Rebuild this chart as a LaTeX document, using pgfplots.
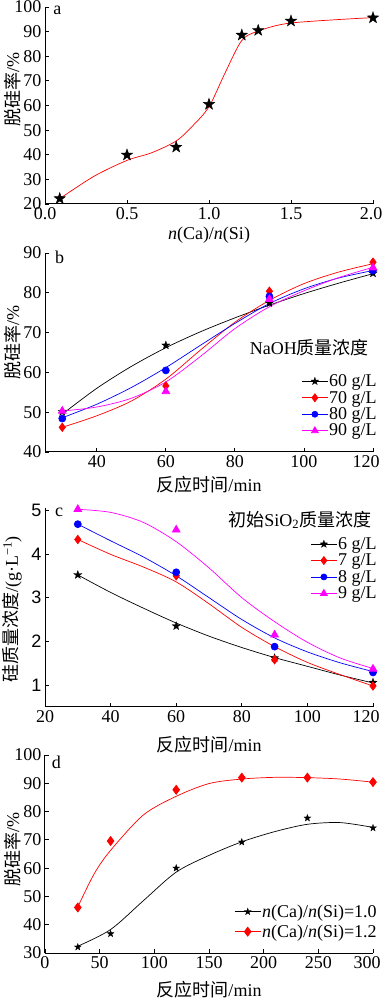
\documentclass[border=0pt]{standalone}
\usepackage{fontspec}
\setmainfont{Liberation Serif}
\setsansfont{Liberation Sans}
\newfontfamily\cjk{Noto Sans CJK SC}
\usepackage{pgfplots}
\pgfplotsset{compat=1.18}
\definecolor{mag}{RGB}{255,0,255}
\pgfdeclareplotmark{fstar}{%
  \pgfpathmoveto{\pgfpointpolar{90}{\pgfplotmarksize}}%
  \pgfpathlineto{\pgfpointpolar{126}{0.4\pgfplotmarksize}}%
  \pgfpathlineto{\pgfpointpolar{162}{\pgfplotmarksize}}%
  \pgfpathlineto{\pgfpointpolar{198}{0.4\pgfplotmarksize}}%
  \pgfpathlineto{\pgfpointpolar{234}{\pgfplotmarksize}}%
  \pgfpathlineto{\pgfpointpolar{270}{0.4\pgfplotmarksize}}%
  \pgfpathlineto{\pgfpointpolar{306}{\pgfplotmarksize}}%
  \pgfpathlineto{\pgfpointpolar{342}{0.4\pgfplotmarksize}}%
  \pgfpathlineto{\pgfpointpolar{18}{\pgfplotmarksize}}%
  \pgfpathlineto{\pgfpointpolar{54}{0.4\pgfplotmarksize}}%
  \pgfpathclose
  \pgfusepathqfillstroke
}
\pgfplotsset{
  myaxis/.style={
    scale only axis, width=328pt,
    axis lines=left, axis line style={-, line width=1pt},
    tick align=inside, major tick length=4pt, tick style={line width=0.8pt, black},
    /pgf/number format/assume math mode=true,
    xlabel style={anchor=center},
    ylabel style={anchor=center},
    every axis plot/.append style={line width=0.7pt},
    legend style={draw=none, fill=none, inner sep=0pt, row sep=1pt,
      nodes={inner sep=1pt}, cells={anchor=west}, anchor=north east},
    legend image code/.code={\draw[mark repeat=2,mark phase=2,#1] plot coordinates {(0pt,0pt) (13pt,0pt) (26pt,0pt)};},
    clip=false,
  },
}
\begin{document}
\begin{tikzpicture}[font=\fontsize{18pt}{21pt}\selectfont]
\path[use as bounding box] (0pt,0pt) rectangle (382pt,1000pt);
% ---------------- a
\begin{axis}[myaxis, at={(45pt,796pt)}, anchor=south west, height=197pt,
  xmin=0, xmax=2, ymin=20, ymax=100,
  xtick={0,0.5,1,1.5}, ytick={20,30,...,100},
  extra x ticks={2}, extra x tick style={xticklabel style={xshift=-2pt}},
  xticklabel style={/pgf/number format/fixed,/pgf/number format/fixed zerofill,/pgf/number format/precision=1},
  xlabel={\textit{n}(Ca)/\textit{n}(Si)},
  xlabel style={at={(axis description cs:0.5,-0.157)}},
  ylabel={{\cjk 脱硅率}/\%},
  ylabel style={at={(axis description cs:-0.1,0.58)}},
]
\addplot[red, smooth, tension=0.5] coordinates {(0.09,22.2) (0.3,31.3) (0.5,37.7) (0.65,40.8) (0.8,45.6) (0.9,51.7) (1.0,59.5) (1.1,73.5) (1.2,86.4) (1.3,90.2) (1.5,93.5) (2.0,95.7)};
\addplot[only marks, mark=fstar, mark size=6pt, mark options={fill=black, line width=0.4pt}, black] coordinates {(0.09,22.2) (0.5,39.9) (0.8,43.1) (1.0,60.5) (1.2,88.6) (1.3,90.5) (1.5,94.3) (2.0,95.6)};
\node[anchor=base west, inner sep=0] at (axis description cs:0.025,0.962) {a};
\end{axis}
% ---------------- b
\begin{axis}[myaxis, at={(45pt,548pt)}, anchor=south west, height=199pt,
  xmin=25, xmax=120, ymin=40, ymax=90,
  xtick={40,60,...,100}, ytick={40,50,...,90},
  extra x ticks={120}, extra x tick style={xticklabel style={xshift=-7pt}},
  xlabel={{\cjk 反应时间}/min},
  xlabel style={at={(axis description cs:0.5,-0.166)}},
  ylabel={{\cjk 脱硅率}/\%},
  ylabel style={at={(axis description cs:-0.1,0.55)}},
  legend style={at={(axis description cs:1.015,0.395)}, row sep=1pt},
]
\addplot[black, smooth, forget plot] coordinates {(30,49.5) (40,56) (50,61.5) (60,66.2) (70,70.2) (80,73.7) (90,76.9) (100,79.8) (110,82.4) (120,84.8)};
\addplot[red, smooth, forget plot] coordinates {(30,46.2) (40,49.1) (50,52.8) (60,58.3) (70,65.6) (80,72.6) (90,78.1) (100,82.3) (110,85.2) (120,87.3)};
\addplot[blue, smooth, forget plot] coordinates {(30,48.6) (40,52) (50,56.2) (60,61.2) (70,66.8) (80,72.3) (90,77.3) (100,81) (110,83.7) (120,85.6)};
\addplot[mag, smooth, forget plot] coordinates {(30,50.3) (40,51.3) (50,53.5) (60,57.6) (70,64) (80,71) (90,76.5) (100,80.5) (110,83.8) (120,86.4)};
\addplot[black, only marks, mark=fstar, mark size=4.3pt, mark options={fill=black, line width=0.3pt}, forget plot] coordinates {(30,50.1) (60,66.8) (90,77.4) (120,84.9)};
\addplot[red, only marks, mark=diamond*, mark size=4.2pt, forget plot] coordinates {(30,46.2) (60,56.6) (90,80.4) (120,87.7)};
\addplot[blue, only marks, mark=*, mark size=3.5pt, forget plot] coordinates {(30,48.4) (60,60.5) (90,79.1) (120,85.6)};
\addplot[mag, only marks, mark=triangle*, mark size=4.5pt, forget plot] coordinates {(30,50.3) (60,55.2) (90,78.4) (120,86.3)};
\addlegendimage{black, line width=0.7pt, mark=fstar, mark size=4pt, mark options={fill=black, line width=0.3pt}}
\addlegendentry{60 g/L}
\addlegendimage{red, line width=0.7pt, mark=diamond*, mark size=4pt}
\addlegendentry{70 g/L}
\addlegendimage{blue, line width=0.7pt, mark=*, mark size=3pt}
\addlegendentry{80 g/L}
\addlegendimage{mag, line width=0.7pt, mark=triangle*, mark size=4pt}
\addlegendentry{90 g/L}
\node[anchor=center, inner sep=0] at (axis description cs:0.806,0.523) {NaOH{\cjk 质量浓度}};
\node[anchor=base west, inner sep=0] at (axis description cs:0.03,0.945) {b};
\end{axis}
% ---------------- c
\begin{axis}[myaxis, at={(45pt,293pt)}, anchor=south west, height=199pt,
  xmin=20, xmax=120, ymin=0.5, ymax=5.05,
  xtick={20,40,...,100}, ytick={1,2,3,4,5},
  extra x ticks={120}, extra x tick style={xticklabel style={xshift=-7pt}},
  yticklabel style={font=\sffamily\fontsize{18pt}{21pt}\selectfont},
  xlabel={{\cjk 反应时间}/min},
  xlabel style={at={(axis description cs:0.5,-0.19)}},
  ylabel={{\cjk 硅质量浓度}/(g·L\textsuperscript{−1})},
  ylabel style={at={(axis description cs:-0.1,0.49)}},
  legend style={at={(axis description cs:1.015,0.858)}},
]
\addplot[black, smooth, forget plot] coordinates {(30,3.52) (40,3.12) (50,2.76) (60,2.42) (70,2.12) (80,1.86) (90,1.63) (100,1.43) (110,1.23) (120,1.05)};
\addplot[red, smooth, forget plot] coordinates {(30,4.33) (40,3.99) (50,3.70) (60,3.36) (70,2.86) (80,2.32) (90,1.88) (100,1.52) (110,1.24) (120,0.98)};
\addplot[blue, smooth, forget plot] coordinates {(30,4.68) (40,4.30) (50,3.93) (60,3.50) (70,3.0) (80,2.50) (90,2.08) (100,1.76) (110,1.51) (120,1.31)};
\addplot[mag, smooth, forget plot] coordinates {(30,5.02) (40,4.95) (50,4.72) (60,4.28) (70,3.68) (80,3.0) (90,2.45) (100,1.98) (110,1.62) (120,1.38)};
\addplot[black, only marks, mark=fstar, mark size=4.3pt, mark options={fill=black, line width=0.3pt}, forget plot] coordinates {(30,3.52) (60,2.35) (90,1.62) (120,1.06)};
\addplot[red, only marks, mark=diamond*, mark size=4.2pt, forget plot] coordinates {(30,4.33) (60,3.5) (90,1.58) (120,0.98)};
\addplot[blue, only marks, mark=*, mark size=3.5pt, forget plot] coordinates {(30,4.68) (60,3.58) (90,1.88) (120,1.29)};
\addplot[mag, only marks, mark=triangle*, mark size=4.5pt, forget plot] coordinates {(30,5.02) (60,4.55) (90,2.15) (120,1.37)};
\addlegendimage{black, line width=0.7pt, mark=fstar, mark size=4pt, mark options={fill=black, line width=0.3pt}}
\addlegendentry{6 g/L}
\addlegendimage{red, line width=0.7pt, mark=diamond*, mark size=4pt}
\addlegendentry{7 g/L}
\addlegendimage{blue, line width=0.7pt, mark=*, mark size=3pt}
\addlegendentry{8 g/L}
\addlegendimage{mag, line width=0.7pt, mark=triangle*, mark size=4pt}
\addlegendentry{9 g/L}
\node[anchor=center, inner sep=0] at (axis description cs:0.777,0.94) {{\cjk 初始}SiO\textsubscript{2}{\cjk 质量浓度}};
\node[anchor=base west, inner sep=0] at (axis description cs:0.03,0.955) {c};
\end{axis}
% ---------------- d
\begin{axis}[myaxis, at={(45pt,47pt)}, anchor=south west, height=198pt,
  xmin=0, xmax=300, ymin=30, ymax=100,
  xtick={0,50,...,250}, ytick={30,40,...,100},
  extra x ticks={300}, extra x tick style={xticklabel style={xshift=-6pt}},
  xlabel={{\cjk 反应时间}/min},
  xlabel style={at={(axis description cs:0.5,-0.185)}},
  ylabel={{\cjk 脱硅率}/\%},
  ylabel style={at={(axis description cs:-0.1,0.525)}},
  legend style={at={(axis description cs:1.015,0.25)}, row sep=4pt},
]
\addplot[black, smooth, forget plot] coordinates {(30,32.4) (60,38.3) (90,48.5) (120,58.6) (150,64.5) (180,69.3) (210,72.9) (240,75.5) (270,76.1) (300,74.4)};
\addplot[red, smooth, forget plot] coordinates {(30,46.3) (45,58) (60,66.3) (90,78.8) (120,85.4) (150,89.9) (180,91.5) (210,92.1) (240,92) (270,91.5) (300,90.4)};
\addplot[black, only marks, mark=fstar, mark size=3.6pt, mark options={fill=black, line width=0.3pt}, forget plot] coordinates {(30,32.1) (60,36.8) (120,60) (180,69.2) (240,77.7) (300,74.2)};
\addplot[red, only marks, mark=diamond*, mark size=4.5pt, forget plot] coordinates {(30,46.1) (60,69.6) (120,87.7) (180,92) (240,92) (300,90.4)};
\addlegendimage{black, line width=0.7pt, mark=fstar, mark size=3.6pt, mark options={fill=black, line width=0.3pt}}
\addlegendentry{\textit{n}(Ca)/\textit{n}(Si)=1.0}
\addlegendimage{red, line width=0.7pt, mark=diamond*, mark size=4.5pt}
\addlegendentry{\textit{n}(Ca)/\textit{n}(Si)=1.2}
\node[anchor=base west, inner sep=0] at (axis description cs:0.02,0.934) {d};
\end{axis}
\end{tikzpicture}
\end{document}
